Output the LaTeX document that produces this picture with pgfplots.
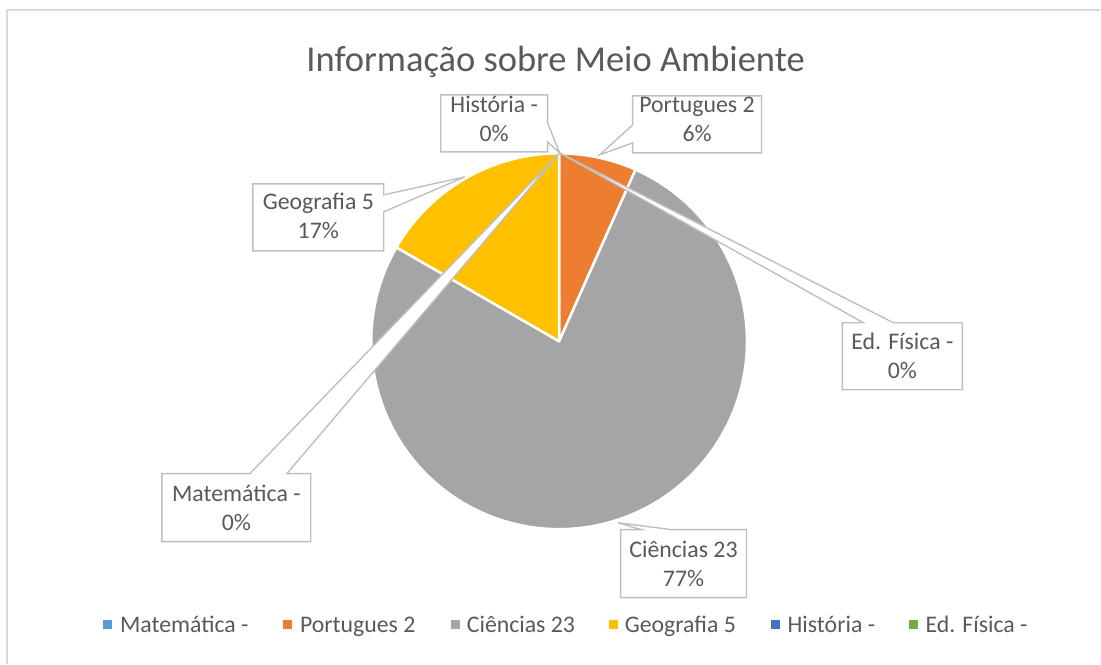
\documentclass[border=0pt]{standalone}
\usepackage{fontspec}
\setmainfont{Carlito}
\usepackage{pgfplots}
\usepackage{pgfplotstable}
\pgfplotsset{compat=1.18}
\definecolor{cMat}{HTML}{5B9BD5}
\definecolor{cPor}{HTML}{ED7D31}
\definecolor{cCie}{HTML}{A5A5A5}
\definecolor{cGeo}{HTML}{FFC000}
\definecolor{cHis}{HTML}{4472C4}
\definecolor{cEdf}{HTML}{70AD47}
\definecolor{txt}{HTML}{595959}
\definecolor{callout}{HTML}{BFBFBF}
\definecolor{frame}{HTML}{D9D9D9}

\pgfplotstableread{
name value
Matematica 0
Portugues 2
Ciencias 23
Geografia 5
Historia 0
EdFisica 0
}\piedata

\begin{document}
\begin{tikzpicture}
\pgfplotstablegetelem{0}{value}\of\piedata \let\vMat\pgfplotsretval
\pgfplotstablegetelem{1}{value}\of\piedata \let\vPor\pgfplotsretval
\pgfplotstablegetelem{2}{value}\of\piedata \let\vCie\pgfplotsretval
\pgfplotstablegetelem{3}{value}\of\piedata \let\vGeo\pgfplotsretval
\pgfplotstablegetelem{4}{value}\of\piedata \let\vHis\pgfplotsretval
\pgfplotstablegetelem{5}{value}\of\piedata \let\vEdf\pgfplotsretval
\pgfmathsetmacro\tot{\vMat+\vPor+\vCie+\vGeo+\vHis+\vEdf}
\pgfmathsetmacro\aA{360*\vMat/\tot}
\pgfmathsetmacro\aB{\aA+360*\vPor/\tot}
\pgfmathsetmacro\aC{\aB+360*\vCie/\tot}
\pgfmathsetmacro\aD{\aC+360*\vGeo/\tot}
\def\cx{559.5}\def\cy{341.5}\def\R{188}
\begin{axis}[
  scale only axis, width=1101pt, height=664pt,
  xmin=0, xmax=1101, ymin=0, ymax=664, y dir=reverse,
  hide axis, clip=false,
]
% page extent
\path (axis cs:0,0) rectangle (axis cs:1101,664);
% frame
\draw[frame, line width=1.5pt] (axis cs:7,664) -- (axis cs:7,10) -- (axis cs:1101,10);
% slices
\addplot[fill=cPor, draw=white, line width=2.5pt, line join=round, domain=\aA:\aB, samples=40, variable=\t]
  ({\cx+\R*sin(\t)}, {\cy-\R*cos(\t)}) -- (axis cs:\cx,\cy) -- cycle;
\addplot[fill=cCie, draw=white, line width=2.5pt, line join=round, domain=\aB:\aC, samples=200, variable=\t]
  ({\cx+\R*sin(\t)}, {\cy-\R*cos(\t)}) -- (axis cs:\cx,\cy) -- cycle;
\addplot[fill=cGeo, draw=white, line width=2.5pt, line join=round, domain=\aC:\aD, samples=60, variable=\t]
  ({\cx+\R*sin(\t)}, {\cy-\R*cos(\t)}) -- (axis cs:\cx,\cy) -- cycle;
% title
\node[txt, font=\fontsize{36.5}{42}\selectfont, anchor=base, inner sep=0pt] at (axis cs:556,72) {Informação sobre Meio Ambiente};
% legend
\tikzset{leg/.style={txt, font=\fontsize{23.8}{28}\selectfont, anchor=base west, inner sep=0pt}}
\fill[cMat] (axis cs:103,620) rectangle (axis cs:112,629);
\node[leg] at (axis cs:120,633) {Matemática -};
\fill[cPor] (axis cs:283,620) rectangle (axis cs:292,629);
\node[leg] at (axis cs:300,633) {Portugues 2};
\fill[cCie] (axis cs:451,620) rectangle (axis cs:460,629);
\node[leg] at (axis cs:467,633) {Ciências 23};
\fill[cGeo] (axis cs:609,620) rectangle (axis cs:618,629);
\node[leg] at (axis cs:625,633) {Geografia 5};
\fill[cHis] (axis cs:772,620) rectangle (axis cs:781,629);
\node[leg] at (axis cs:788,633) {História -};
\fill[cEdf] (axis cs:910,620) rectangle (axis cs:919,629);
\node[leg] at (axis cs:926,633) {Ed. Física -};
% callouts
\tikzset{co/.style={fill=white, draw=callout, line width=1.4pt, line join=miter}}
\tikzset{lab/.style={txt, font=\fontsize{23.8}{28}\selectfont, anchor=base, inner sep=0pt}}
\newcommand\lab[4]{\node[lab] at (axis cs:#1,#2) {#3};\node[lab] at (axis cs:#1,#2+28.5) {#4};}
% Matematica (pointer on top edge)
\draw[co] (axis cs:162,474) -- (axis cs:250,474) -- (axis cs:560,153) -- (axis cs:287,474) -- (axis cs:311,474) -- (axis cs:311,542) -- (axis cs:162,542) -- cycle;
\lab{236.5}{502}{Matemática -}{0\%}
% Ed. Fisica
\draw[co] (axis cs:843,323) -- (axis cs:864,323) -- (axis cs:560,153) -- (axis cs:894,323) -- (axis cs:963,323) -- (axis cs:963,390) -- (axis cs:843,390) -- cycle;
\lab{903}{350}{Ed. Física -}{0\%}
% Historia (pointer on right edge)
\draw[co] (axis cs:441,95) -- (axis cs:548,95) -- (axis cs:548,123) -- (axis cs:560,153) -- (axis cs:548,142) -- (axis cs:548,152) -- (axis cs:441,152) -- cycle;
\lab{494.5}{113}{História -}{0\%}
% Portugues (pointer on left edge)
\draw[co] (axis cs:633,96) -- (axis cs:762,96) -- (axis cs:762,153) -- (axis cs:633,153) -- (axis cs:633,143) -- (axis cs:600,155) -- (axis cs:633,125) -- cycle;
\lab{697.5}{113}{Portugues 2}{6\%}
% Geografia (pointer on right edge)
\draw[co] (axis cs:253,184) -- (axis cs:384,184) -- (axis cs:384,195) -- (axis cs:465,177) -- (axis cs:384,212) -- (axis cs:384,251) -- (axis cs:253,251) -- cycle;
\lab{318.5}{210}{Geografia 5}{17\%}
% Ciencias (pointer on top edge)
\draw[co] (axis cs:621,530) -- (axis cs:642,530) -- (axis cs:618,523) -- (axis cs:672,530) -- (axis cs:747,530) -- (axis cs:747,598) -- (axis cs:621,598) -- cycle;
\lab{684}{558}{Ciências 23}{77\%}
\end{axis}
\end{tikzpicture}
\end{document}
